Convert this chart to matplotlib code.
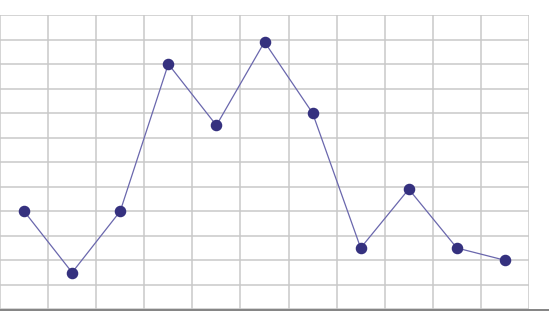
import matplotlib
import matplotlib.pyplot as plt
from matplotlib.lines import Line2D

matplotlib.use('Agg')

categories = list(range(11))
values = [4, 1.5, 4, 10, 7.5, 10.9, 8, 2.5, 4.9, 2.5, 2]


def plot_line(x, y):
    fig = plt.figure(figsize=(5.49, 3.11), dpi=100)
    ax = fig.add_axes([0.0, 1.7 / 311, 529 / 549, (309.3 - 15) / 311])

    ax.plot(x, y, color='#6a67ad', linewidth=0.9, zorder=3)
    ax.plot(x, y, 'o', color='#35317f', markersize=7.3, zorder=4)

    ax.set_xlim(-0.5, 10.5)
    ax.set_ylim(0, 12)
    ax.set_xticks([i - 0.5 for i in range(12)])
    ax.set_yticks(range(13))
    ax.tick_params(length=0, labelbottom=False, labelleft=False)
    ax.grid(True, color='#c9c9c9', linewidth=1.1)
    ax.set_axisbelow(True)
    for side in ['top', 'left', 'right', 'bottom']:
        ax.spines[side].set_visible(False)

    # dark baseline across the whole width
    fig.add_artist(Line2D([0, 1], [1.5 / 311, 1.5 / 311], color='#7a7a7a',
                          linewidth=1.3, transform=fig.transFigure))

    fig.savefig('out.png', dpi=100)


plot_line(categories, values)
